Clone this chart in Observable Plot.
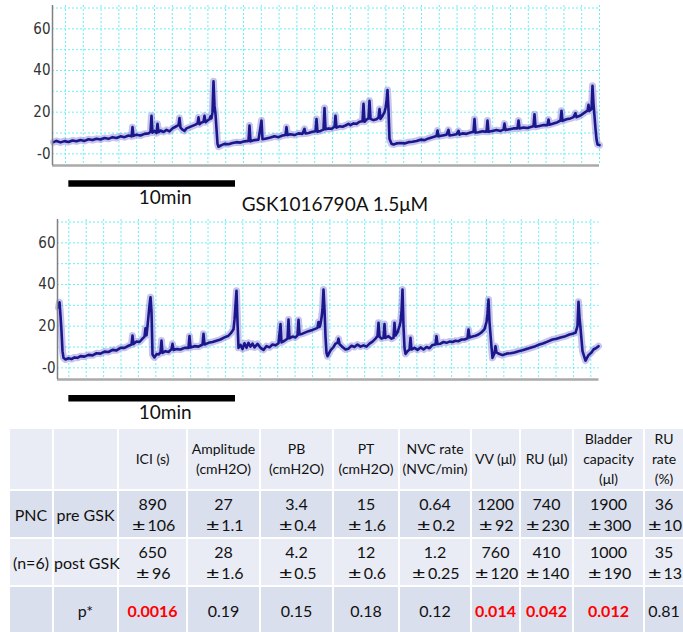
<!DOCTYPE html>
<html><head><meta charset="utf-8">
<script src="https://cdn.jsdelivr.net/npm/d3@7"></script>
<script src="https://cdn.jsdelivr.net/npm/@observablehq/plot@0.6"></script>
<style>
body{margin:0;background:#fff;}
#wrap{position:relative;width:683px;height:632px;overflow:hidden;font-family:Lato,"Open Sans",sans-serif;color:#111;}
.abs{position:absolute;}
#title{left:0;width:670px;text-align:center;font-size:19px;top:192px;line-height:24px;}
table{border-collapse:collapse;table-layout:fixed;}
td{border:2px solid #fff;text-align:center;vertical-align:middle;padding:0;background:#e9ecf5;white-space:nowrap;}
tr.hd td{font-size:14px;line-height:20px;height:48px;}
tr.bd td{font-size:16px;line-height:21px;height:46px;}
tr.alt td{background:#dadfed;}
td.lab{font-size:15.5px;}
.pm{display:inline-block;width:1.1em;text-align:center;transform:scaleX(1.45);}
.sig{color:#ff0000;font-weight:bold;}
</style></head><body><div id="wrap"></div>
<script>
// ---- cystometry traces: [time (min), pressure (cmH2O)] ----
const preTrace = [[0.06,5.6],[0.24,6.2],[0.48,5.5],[0.72,6.1],[0.96,5.7],[1.20,6.4],[1.44,6.0],[1.68,6.6],[1.92,6.2],[2.16,7.0],[2.40,6.6],[2.64,7.2],[2.88,6.9],[3.12,7.6],[3.36,7.2],[3.60,8.0],[3.84,7.6],[4.08,8.4],[4.32,8.0],[4.56,8.8],[4.74,8.4],[4.80,12.8],[4.86,8.6],[5.04,9.2],[5.28,8.8],[5.52,9.6],[5.76,9.8],[5.88,10.6],[5.94,18.3],[6.00,10.2],[6.12,11.0],[6.24,10.0],[6.30,14.4],[6.36,10.4],[6.48,11.2],[6.66,10.5],[6.84,11.5],[7.02,10.8],[7.20,12.2],[7.38,13.0],[7.56,13.8],[7.62,17.2],[7.68,12.6],[7.80,11.6],[7.92,11.0],[8.04,12.2],[8.22,12.8],[8.40,13.4],[8.58,14.0],[8.70,14.6],[8.76,17.5],[8.82,14.2],[8.94,15.0],[9.06,15.4],[9.12,18.3],[9.18,15.2],[9.30,16.0],[9.42,16.6],[9.48,18.0],[9.54,17.0],[9.60,20.0],[9.66,34.8],[9.72,23.0],[9.78,19.0],[9.84,12.0],[9.90,4.8],[9.96,3.4],[10.14,4.2],[10.32,4.8],[10.56,4.6],[10.80,5.2],[11.04,5.6],[11.28,5.4],[11.52,6.0],[11.76,6.2],[11.82,13.6],[11.88,6.0],[12.12,6.6],[12.36,6.8],[12.54,16.0],[12.60,7.0],[12.84,7.4],[13.08,7.8],[13.32,8.4],[13.56,8.0],[13.80,8.8],[13.98,9.0],[14.04,12.8],[14.10,9.0],[14.28,9.4],[14.52,9.0],[14.76,9.8],[15.00,9.6],[15.12,12.0],[15.18,9.8],[15.36,10.0],[15.60,10.6],[15.78,10.8],[15.84,16.7],[15.90,10.6],[16.08,11.0],[16.26,11.6],[16.32,22.0],[16.38,11.8],[16.56,12.2],[16.74,12.0],[16.92,13.0],[16.98,18.3],[17.04,12.6],[17.22,13.2],[17.40,13.0],[17.58,13.6],[17.76,14.4],[17.88,13.8],[18.06,14.6],[18.24,14.4],[18.42,15.4],[18.60,15.6],[18.66,24.0],[18.72,15.4],[18.84,16.4],[18.96,17.0],[19.02,25.5],[19.08,16.8],[19.26,16.2],[19.44,16.6],[19.56,17.4],[19.62,21.5],[19.68,16.8],[19.80,18.2],[19.92,20.0],[19.98,22.0],[20.04,25.0],[20.10,30.6],[20.16,21.0],[20.22,7.2],[20.34,4.8],[20.46,4.5],[20.64,5.0],[20.88,5.2],[21.12,5.0],[21.36,5.6],[21.60,5.8],[21.84,6.2],[22.08,6.8],[22.32,6.6],[22.56,7.4],[22.80,8.0],[23.04,8.6],[23.10,11.2],[23.16,8.4],[23.40,8.8],[23.64,9.2],[23.76,11.5],[23.82,8.8],[24.00,9.0],[24.24,9.4],[24.36,11.0],[24.42,9.2],[24.60,9.8],[24.84,9.6],[25.08,10.2],[25.26,10.6],[25.32,16.7],[25.38,10.2],[25.56,10.4],[25.80,10.8],[26.04,10.6],[26.10,16.0],[26.16,10.6],[26.40,11.0],[26.64,11.4],[26.88,11.0],[27.06,11.6],[27.12,14.5],[27.18,11.4],[27.42,11.8],[27.66,12.2],[27.90,12.2],[27.96,16.0],[28.02,12.2],[28.26,12.6],[28.50,12.4],[28.74,13.0],[28.86,13.2],[28.92,19.0],[28.98,13.0],[29.22,13.4],[29.46,13.8],[29.70,13.8],[29.76,16.5],[29.82,14.0],[30.06,14.6],[30.30,15.2],[30.48,16.0],[30.54,20.7],[30.60,15.8],[30.84,16.6],[31.08,17.0],[31.26,17.6],[31.38,19.5],[31.44,17.6],[31.68,18.4],[31.92,19.8],[32.10,20.7],[32.16,23.5],[32.22,20.6],[32.34,21.5],[32.40,32.7],[32.46,24.0],[32.52,18.0],[32.58,12.0],[32.64,7.0],[32.70,4.5],[32.82,4.2]];
const postTrace = [[0.06,29.0],[0.12,31.5],[0.18,25.0],[0.24,17.6],[0.30,8.0],[0.36,4.8],[0.48,4.0],[0.66,4.6],[0.84,4.2],[1.02,5.0],[1.20,4.8],[1.38,5.6],[1.62,5.4],[1.86,6.2],[2.10,6.0],[2.34,7.0],[2.58,6.8],[2.82,7.8],[3.06,7.6],[3.30,8.6],[3.54,8.4],[3.78,9.6],[4.02,9.6],[4.26,10.6],[4.44,11.2],[4.50,15.5],[4.56,11.4],[4.74,12.6],[4.92,12.4],[5.10,14.0],[5.22,15.0],[5.28,19.0],[5.34,15.6],[5.40,20.0],[5.46,25.0],[5.52,30.0],[5.58,33.9],[5.64,27.0],[5.70,6.4],[5.82,5.0],[5.94,6.6],[6.06,6.4],[6.18,7.4],[6.24,13.1],[6.30,7.2],[6.48,8.0],[6.66,7.6],[6.84,9.0],[6.90,11.5],[6.96,8.6],[7.14,9.0],[7.38,8.8],[7.62,9.6],[7.86,9.6],[7.92,15.2],[7.98,9.8],[8.22,10.4],[8.46,10.2],[8.70,11.2],[8.76,16.3],[8.82,11.2],[9.06,12.0],[9.30,12.4],[9.54,13.0],[9.78,13.6],[10.02,14.6],[10.26,15.4],[10.44,17.0],[10.56,18.5],[10.62,23.0],[10.68,30.0],[10.74,37.0],[10.80,22.0],[10.86,9.6],[10.98,11.0],[11.10,9.0],[11.22,11.8],[11.34,9.6],[11.46,12.0],[11.58,10.2],[11.70,11.6],[11.82,9.8],[12.00,11.5],[12.18,9.6],[12.36,8.6],[12.54,10.4],[12.72,9.8],[12.90,11.2],[13.08,10.8],[13.26,11.8],[13.38,21.0],[13.44,12.2],[13.62,13.0],[13.80,14.0],[13.86,23.2],[13.92,14.2],[14.10,15.0],[14.28,14.6],[14.40,15.6],[14.46,23.0],[14.52,16.0],[14.70,16.4],[14.88,17.0],[15.06,17.6],[15.24,18.0],[15.42,18.6],[15.60,19.2],[15.66,22.0],[15.72,19.6],[15.78,21.0],[15.84,24.0],[15.90,28.0],[15.96,37.6],[16.02,28.0],[16.08,15.0],[16.14,7.2],[16.20,5.6],[16.38,8.4],[16.56,10.0],[16.68,11.6],[16.80,12.0],[16.86,14.0],[16.92,11.4],[17.10,10.0],[17.28,8.8],[17.46,9.2],[17.64,10.6],[17.82,10.0],[18.00,11.2],[18.18,10.2],[18.36,10.8],[18.54,10.2],[18.72,11.6],[18.90,12.6],[19.08,14.0],[19.20,15.2],[19.26,21.6],[19.32,15.0],[19.44,14.0],[19.56,14.4],[19.62,21.0],[19.68,14.4],[19.86,15.2],[20.04,14.0],[20.16,14.4],[20.22,21.6],[20.28,15.5],[20.40,17.0],[20.52,20.0],[20.58,22.0],[20.64,27.0],[20.70,37.6],[20.76,20.0],[20.82,9.6],[20.88,6.7],[21.00,8.0],[21.12,8.8],[21.18,14.4],[21.24,8.8],[21.42,9.6],[21.60,8.6],[21.78,9.8],[21.96,8.8],[22.14,10.0],[22.32,9.4],[22.50,11.0],[22.68,11.2],[22.74,15.2],[22.80,11.4],[22.98,11.6],[23.16,12.4],[23.34,12.0],[23.52,12.6],[23.70,12.4],[23.88,13.0],[24.06,12.8],[24.24,13.6],[24.42,13.6],[24.60,14.2],[24.66,18.4],[24.72,14.6],[24.90,15.0],[25.08,15.4],[25.26,16.0],[25.44,17.0],[25.62,18.6],[25.74,22.0],[25.80,26.0],[25.86,32.8],[25.92,22.0],[26.04,10.0],[26.10,4.8],[26.22,7.0],[26.28,10.4],[26.34,7.4],[26.52,6.6],[26.70,6.1],[26.94,6.8],[27.18,7.0],[27.42,7.4],[27.66,8.0],[27.90,8.4],[28.14,9.0],[28.38,9.6],[28.68,10.4],[28.92,11.2],[29.16,11.8],[29.40,12.6],[29.70,13.6],[29.94,14.0],[30.18,14.6],[30.48,15.2],[30.72,16.0],[30.90,16.4],[31.08,16.8],[31.20,20.0],[31.26,31.7],[31.32,24.0],[31.38,19.2],[31.50,8.0],[31.68,3.5],[31.86,6.1],[32.04,7.4],[32.16,8.8],[32.34,9.6],[32.46,10.4]];
const yTicks = [0, 20, 40, 60];
const yTickLabels = ["-0", "20", "40", "60"];
const scaleBarMinutes = 10;
const scaleBarLabel = "10min";
const drugLabel = "GSK1016790A 1.5μM";

// ---- table ----
const headerLabels = ["", "", "ICI (s)", "Amplitude\n(cmH2O)", "PB\n(cmH2O)", "PT\n(cmH2O)", "NVC rate\n(NVC/min)", "VV (μl)", "RU (μl)", "Bladder\ncapacity\n(μl)", "RU\nrate\n(%)"];
const groupLabels = ["PNC", "(n=6)"];
const conditionLabels = ["pre GSK", "post GSK"];
const preMean = ["890", "27", "3.4", "15", "0.64", "1200", "740", "1900", "36"];
const preSem = ["106", "1.1", "0.4", "1.6", "0.2", "92", "230", "300", "10"];
const postMean = ["650", "28", "4.2", "12", "1.2", "760", "410", "1000", "35"];
const postSem = ["96", "1.6", "0.5", "0.6", "0.25", "120", "140", "190", "13"];
const pLabel = "p*";
const pValues = ["0.0016", "0.19", "0.15", "0.18", "0.12", "0.014", "0.042", "0.012", "0.81"];
const significant = [true, false, false, false, false, true, true, true, false];
const colWidths = [44, 65, 69, 73, 73, 66, 72, 49, 53, 71, 40];

const wrap = document.getElementById("wrap");

function trace(series, o) {
  const data = series.map(([t, p]) => ({t, p}));
  const grid = d3.range(o.gridStart, o.xmax + 0.01, o.gridStep);
  const yDom = [-5.6, 71.2];
  return Plot.plot({
    width: 683, height: o.height,
    marginLeft: o.left, marginRight: 683 - o.right, marginTop: o.top, marginBottom: o.bottom,
    x: {domain: [0, o.xmax], axis: null},
    y: {domain: yDom, axis: null},
    style: {fontFamily: "'Liberation Sans Narrow','DejaVu Sans Condensed',sans-serif", background: "transparent", overflow: "visible"},
    marks: [
      Plot.gridX(grid, {stroke: "#6af0f8", strokeOpacity: 1, strokeDasharray: "2,2", strokeWidth: 1}),
      Plot.gridY(d3.range(0, 71, 10), {stroke: "#6af0f8", strokeOpacity: 1, strokeDasharray: "2,2", strokeWidth: 1}),
      Plot.lineY(data, {x: "t", y: "p", stroke: "#6f6bd0", strokeWidth: 7, strokeOpacity: 0.4}),
      Plot.lineY(data, {x: "t", y: "p", stroke: "#1b168c", strokeWidth: 2.6}),
      Plot.ruleY([yDom[0]], {stroke: "#aaaaaa", strokeWidth: 2.5}),
      Plot.ruleX([0], {stroke: "#808080", strokeWidth: 1.5}),
      Plot.axisY(yTicks, {tickSize: 0, tickPadding: 2, fontSize: 15, fill: "#333", label: null, tickFormat: d => yTickLabels[yTicks.indexOf(d)]}),
      Plot.ruleY([o.barY], {x1: o.barStart, x2: o.barStart + scaleBarMinutes, stroke: "#000", strokeWidth: 6.5}),
      Plot.text([scaleBarLabel], {x: o.barStart + scaleBarMinutes / 2, dx: 13, y: o.textY, fontSize: 19, fontFamily: "Lato, sans-serif", fill: "#111"})
    ]
  });
}

const top1 = trace(preTrace, {height: 215, left: 52, right: 599, top: 5, bottom: 50, xmax: 32.82, gridStart: 0.78, gridStep: 1.068, barStart: 0.98, barY: -14.2, textY: -21.2});
top1.classList.add("abs"); top1.style.left = "0px"; top1.style.top = "0px";
wrap.appendChild(top1);

const title = document.createElement("div");
title.id = "title"; title.className = "abs"; title.textContent = drugLabel;
wrap.appendChild(title);

const bot = trace(postTrace, {height: 210, left: 57, right: 598.5, top: 5, bottom: 45, xmax: 32.49, gridStart: 0.68, gridStep: 1.044, barStart: 0.68, barY: -14.6, textY: -21.8});
bot.classList.add("abs"); bot.style.left = "0px"; bot.style.top = "214px";
wrap.appendChild(bot);

// table
const table = document.createElement("table");
table.className = "abs"; table.style.left = "8px"; table.style.top = "427px";
const cg = document.createElement("colgroup");
colWidths.forEach(w => { const c = document.createElement("col"); c.style.width = w + "px"; cg.appendChild(c); });
table.appendChild(cg);
table.style.width = d3.sum(colWidths) + "px";
function addRow(cls, cells, labCount) {
  const tr = document.createElement("tr"); tr.className = cls;
  cells.forEach((html, i) => { const td = document.createElement("td"); td.innerHTML = html; if (i < labCount) td.className = "lab"; tr.appendChild(td); });
  table.appendChild(tr);
}
const pm = s => `<span class="pm">±</span>${s}`;
addRow("hd", headerLabels.map(h => h.replace(/\n/g, "<br>")), 0);
addRow("bd alt", [groupLabels[0], conditionLabels[0], ...preMean.map((m, i) => `${m}<br>${pm(preSem[i])}`)], 2);
addRow("bd", [groupLabels[1], conditionLabels[1], ...postMean.map((m, i) => `${m}<br>${pm(postSem[i])}`)], 2);
addRow("bd alt", ["", pLabel, ...pValues.map((p, i) => significant[i] ? `<span class="sig">${p}</span>` : p)], 2);
wrap.appendChild(table);
</script></body></html>
